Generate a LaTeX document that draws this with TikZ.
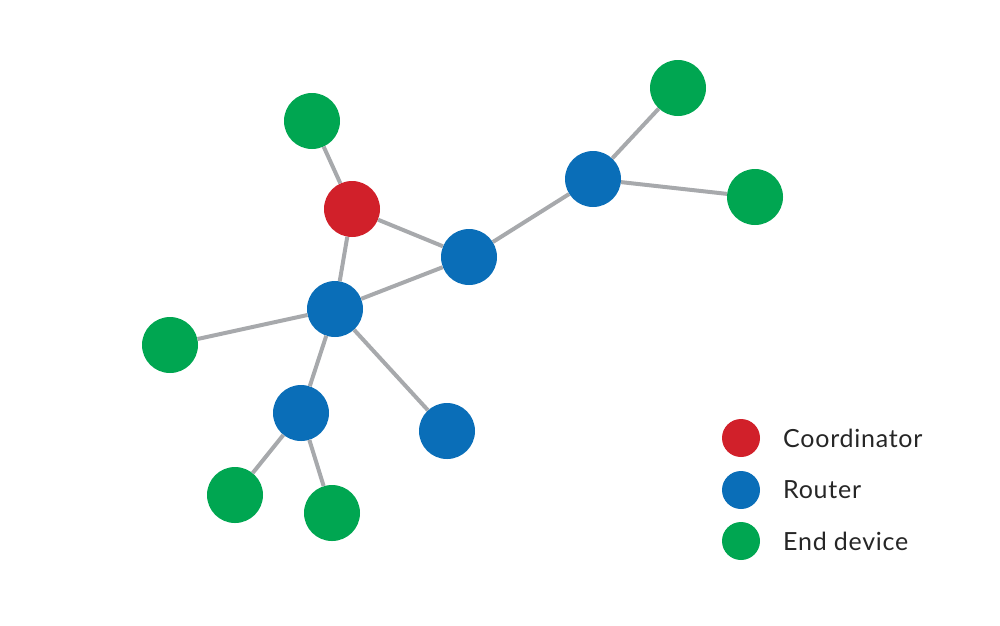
\documentclass[tikz,border=0pt]{standalone}
\usepackage{fontspec}
\setmainfont{Lato}[LetterSpace=3]
\definecolor{coordred}{HTML}{D1202A}
\definecolor{routerblue}{HTML}{0A6EB8}
\definecolor{endgreen}{HTML}{00A651}
\definecolor{linkgray}{HTML}{A7A9AC}
\tikzset{
	dev/.style={circle, inner sep=0pt, minimum size=56pt},
	coord/.style={dev, fill=coordred},
	router/.style={dev, fill=routerblue},
	enddev/.style={dev, fill=endgreen},
	link/.style={draw=linkgray, line width=4pt},
	legtext/.style={anchor=west, inner sep=0pt, font=\fontsize{25}{29}\selectfont, text=black!85}
}
\begin{document}
\begin{tikzpicture}[x=1pt,y=-1pt]
		\useasboundingbox (0,0) rectangle (1000,625);
		% devices
		\node[coord] (c) at (352,209) {};
		\node[enddev] (e1) at (312,121) {};
		\node[router] (r2) at (469,257) {};
		\node[router] (r3) at (593,179) {};
		\node[enddev] (e2) at (678,88) {};
		\node[enddev] (e3) at (755,197) {};
		\node[router] (r1) at (335,309) {};
		\node[enddev] (e4) at (170,345) {};
		\node[router] (r4) at (301,413) {};
		\node[router] (r5) at (447,431) {};
		\node[enddev] (e5) at (235,495) {};
		\node[enddev] (e6) at (332,513) {};
		% links
		\draw[link] (c) -- (e1);
		\draw[link] (c) -- (r2);
		\draw[link] (c) -- (r1);
		\draw[link] (r1) -- (r2);
		\draw[link] (r2) -- (r3);
		\draw[link] (r3) -- (e2);
		\draw[link] (r3) -- (e3);
		\draw[link] (r1) -- (e4);
		\draw[link] (r1) -- (r4);
		\draw[link] (r1) -- (r5);
		\draw[link] (r4) -- (e5);
		\draw[link] (r4) -- (e6);
		% legend
		\node[coord, minimum size=38pt] (lc) at (741,438) {};
		\node[router, minimum size=38pt] (lr) at (741,490) {};
		\node[enddev, minimum size=38pt] (le) at (741,541) {};
		\node[legtext] at (783,438) {Coordinator};
		\node[legtext] at (783,490) {Router};
		\node[legtext] at (783,541) {End device};
	\end{tikzpicture}
\end{document}
